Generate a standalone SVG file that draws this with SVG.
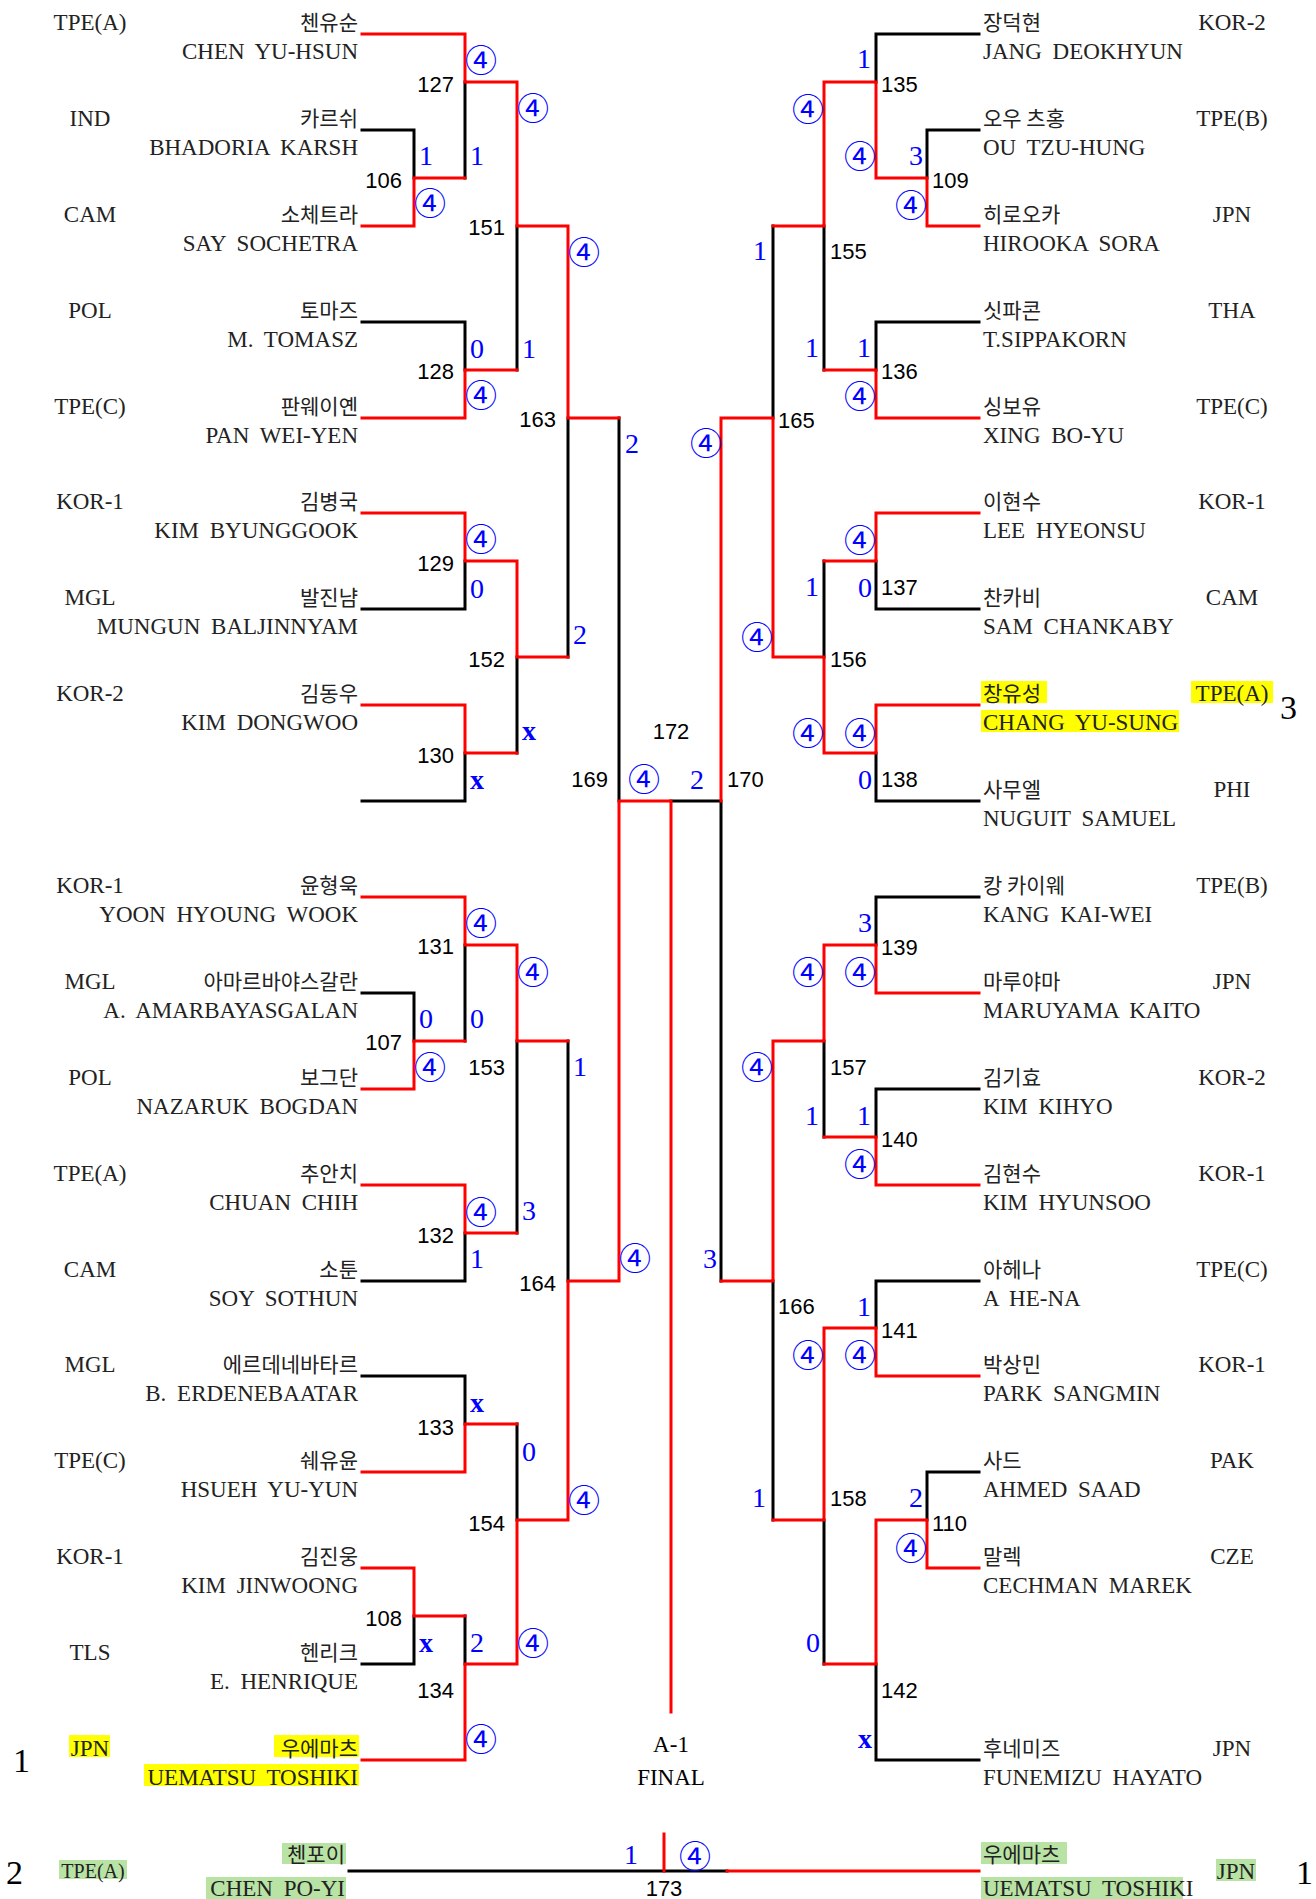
<svg xmlns="http://www.w3.org/2000/svg" width="1316" height="1899" viewBox="0 0 1316 1899">
<style>
.k{fill:none;stroke:#000;stroke-width:3;stroke-linecap:square}
.r{fill:none;stroke:#f00;stroke-width:3;stroke-linecap:square}
.cty{font-family:"Liberation Serif",serif;font-size:23px;fill:#222;text-anchor:middle}
.kr{font-family:"Noto Sans CJK KR",sans-serif;font-size:21px;fill:#222}
.en{font-family:"Liberation Serif",serif;font-size:23px;fill:#222;word-spacing:5px}
.e{text-anchor:end}
.mn{font-family:"Liberation Sans",sans-serif;font-size:22px;fill:#000}
.sc{font-family:"Liberation Serif",serif;font-size:28px;fill:#00f}
.c4{font-family:"Noto Sans CJK KR",sans-serif;font-size:32px;fill:#00f}
.x{font-family:"Liberation Serif",serif;font-weight:bold;font-size:28px;fill:#00f}
.big{font-family:"Liberation Serif",serif;font-size:34px;fill:#000}
.fin{font-family:"Liberation Serif",serif;font-size:23px;fill:#000;text-anchor:middle}
.yl{fill:#ffff00}
.gr{fill:#b9e3a5}
</style>
<rect width="1316" height="1899" fill="#fff"/>
<g id="connectors">
<path class="k" d="M362 130H414V178M465 82V178M362 322H465V370M517 226V370M362 609H465V561M362 801H465V753M517 657V753M568 418V657M619 418V801M465 945V1041M362 993H414V1041M362 1281H465V1233M517 1041V1233M568 1041V1281M362 1376H465V1424M517 1424V1520M362 1664H414V1616M465 1616V1664"/>
<path class="k" d="M979 34H876V82M979 130H927V178M773 226V418M979 322H876V370M824 226V370M979 609H876V561M824 561V657M979 801H876V753M721 801V1281M721 801H671M979 897H876V945M979 1089H876V1137M824 1041V1137M979 1281H876V1328M773 1281V1520M979 1472H927V1520M824 1520V1664M979 1760H876V1664"/>
<path class="k" d="M349 1871H727"/>
<path class="r" d="M362 34H465V82H517V226H568V418H619M362 226H414V178H465M362 418H465V370H517M362 513H465V561H517V657H568M362 705H465V753H517M362 897H465V945H517V1041H568M362 1089H414V1041H465M362 1185H465V1233H517M362 1472H465V1424H517M362 1568H414V1616H465M362 1760H465V1664H517V1520H568V1281H619V801H671V1712"/>
<path class="r" d="M979 226H927V178H876V82H824V226H773M979 418H876V370H824M979 513H876V561H824M979 705H876V753H824V657H773V418H721V801M979 993H876V945H824V1041H773V1281H721M979 1185H876V1137H824M979 1376H876V1328H824V1520H773M979 1568H927V1520H876V1664H824"/>
<path class="r" d="M727 1871H979M664 1834V1871"/>
</g>
<g id="highlights">
<rect class="yl" x="69" y="1735" width="41" height="22"/>
<rect class="yl" x="274" y="1735" width="85" height="22"/>
<rect class="yl" x="144" y="1764" width="215" height="22"/>
<rect class="yl" x="981" y="681" width="66" height="22"/>
<rect class="yl" x="981" y="710" width="198" height="22"/>
<rect class="yl" x="1191" y="681" width="82" height="22"/>
<rect class="gr" x="59" y="1860" width="68" height="19"/>
<rect class="gr" x="282" y="1843" width="64" height="21"/>
<rect class="gr" x="206" y="1877" width="140" height="22"/>
<rect class="gr" x="981" y="1842" width="86" height="22"/>
<rect class="gr" x="981" y="1877" width="202" height="22"/>
<rect class="gr" x="1216" y="1859" width="40" height="22"/>
</g>
<g id="players-left">
<g id="pL1"><text class="cty" x="90" y="30">TPE(A)</text><text class="kr e" x="358" y="30">첸유순</text><text class="en e" x="358" y="59">CHEN YU-HSUN</text></g>
<g id="pL2"><text class="cty" x="90" y="126">IND</text><text class="kr e" x="358" y="126">카르쉬</text><text class="en e" x="358" y="155">BHADORIA KARSH</text></g>
<g id="pL3"><text class="cty" x="90" y="222">CAM</text><text class="kr e" x="358" y="222">소체트라</text><text class="en e" x="358" y="251">SAY SOCHETRA</text></g>
<g id="pL4"><text class="cty" x="90" y="318">POL</text><text class="kr e" x="358" y="318">토마즈</text><text class="en e" x="358" y="347">M. TOMASZ</text></g>
<g id="pL5"><text class="cty" x="90" y="414">TPE(C)</text><text class="kr e" x="358" y="414">판웨이옌</text><text class="en e" x="358" y="443">PAN WEI-YEN</text></g>
<g id="pL6"><text class="cty" x="90" y="509">KOR-1</text><text class="kr e" x="358" y="509">김병국</text><text class="en e" x="358" y="538">KIM BYUNGGOOK</text></g>
<g id="pL7"><text class="cty" x="90" y="605">MGL</text><text class="kr e" x="358" y="605">발진냠</text><text class="en e" x="358" y="634">MUNGUN BALJINNYAM</text></g>
<g id="pL8"><text class="cty" x="90" y="701">KOR-2</text><text class="kr e" x="358" y="701">김동우</text><text class="en e" x="358" y="730">KIM DONGWOO</text></g>
<g id="pL10"><text class="cty" x="90" y="893">KOR-1</text><text class="kr e" x="358" y="893">윤형욱</text><text class="en e" x="358" y="922">YOON HYOUNG WOOK</text></g>
<g id="pL11"><text class="cty" x="90" y="989">MGL</text><text class="kr e" x="358" y="989">아마르바야스갈란</text><text class="en e" x="358" y="1018">A. AMARBAYASGALAN</text></g>
<g id="pL12"><text class="cty" x="90" y="1085">POL</text><text class="kr e" x="358" y="1085">보그단</text><text class="en e" x="358" y="1114">NAZARUK BOGDAN</text></g>
<g id="pL13"><text class="cty" x="90" y="1181">TPE(A)</text><text class="kr e" x="358" y="1181">추안치</text><text class="en e" x="358" y="1210">CHUAN CHIH</text></g>
<g id="pL14"><text class="cty" x="90" y="1277">CAM</text><text class="kr e" x="358" y="1277">소툰</text><text class="en e" x="358" y="1306">SOY SOTHUN</text></g>
<g id="pL15"><text class="cty" x="90" y="1372">MGL</text><text class="kr e" x="358" y="1372">에르데네바타르</text><text class="en e" x="358" y="1401">B. ERDENEBAATAR</text></g>
<g id="pL16"><text class="cty" x="90" y="1468">TPE(C)</text><text class="kr e" x="358" y="1468">쉐유윤</text><text class="en e" x="358" y="1497">HSUEH YU-YUN</text></g>
<g id="pL17"><text class="cty" x="90" y="1564">KOR-1</text><text class="kr e" x="358" y="1564">김진웅</text><text class="en e" x="358" y="1593">KIM JINWOONG</text></g>
<g id="pL18"><text class="cty" x="90" y="1660">TLS</text><text class="kr e" x="358" y="1660">헨리크</text><text class="en e" x="358" y="1689">E. HENRIQUE</text></g>
<g id="pL19"><text class="cty" x="90" y="1756">JPN</text><text class="kr e" x="358" y="1756">우에마츠</text><text class="en e" x="358" y="1785">UEMATSU TOSHIKI</text><text class="big" x="13" y="1772">1</text></g>
</g>
<g id="players-right">
<g id="pR1"><text class="kr" x="983" y="30">장덕현</text><text class="en" x="983" y="59">JANG DEOKHYUN</text><text class="cty" x="1232" y="30">KOR-2</text></g>
<g id="pR2"><text class="kr" x="983" y="126">오우 츠홍</text><text class="en" x="983" y="155">OU TZU-HUNG</text><text class="cty" x="1232" y="126">TPE(B)</text></g>
<g id="pR3"><text class="kr" x="983" y="222">히로오카</text><text class="en" x="983" y="251">HIROOKA SORA</text><text class="cty" x="1232" y="222">JPN</text></g>
<g id="pR4"><text class="kr" x="983" y="318">싯파콘</text><text class="en" x="983" y="347">T.SIPPAKORN</text><text class="cty" x="1232" y="318">THA</text></g>
<g id="pR5"><text class="kr" x="983" y="414">싱보유</text><text class="en" x="983" y="443">XING BO-YU</text><text class="cty" x="1232" y="414">TPE(C)</text></g>
<g id="pR6"><text class="kr" x="983" y="509">이현수</text><text class="en" x="983" y="538">LEE HYEONSU</text><text class="cty" x="1232" y="509">KOR-1</text></g>
<g id="pR7"><text class="kr" x="983" y="605">찬카비</text><text class="en" x="983" y="634">SAM CHANKABY</text><text class="cty" x="1232" y="605">CAM</text></g>
<g id="pR8"><text class="kr" x="983" y="701">창유성</text><text class="en" x="983" y="730">CHANG YU-SUNG</text><text class="cty" x="1232" y="701">TPE(A)</text><text class="big" x="1280" y="719">3</text></g>
<g id="pR9"><text class="kr" x="983" y="797">사무엘</text><text class="en" x="983" y="826">NUGUIT SAMUEL</text><text class="cty" x="1232" y="797">PHI</text></g>
<g id="pR10"><text class="kr" x="983" y="893">캉 카이웨</text><text class="en" x="983" y="922">KANG KAI-WEI</text><text class="cty" x="1232" y="893">TPE(B)</text></g>
<g id="pR11"><text class="kr" x="983" y="989">마루야마</text><text class="en" x="983" y="1018">MARUYAMA KAITO</text><text class="cty" x="1232" y="989">JPN</text></g>
<g id="pR12"><text class="kr" x="983" y="1085">김기효</text><text class="en" x="983" y="1114">KIM KIHYO</text><text class="cty" x="1232" y="1085">KOR-2</text></g>
<g id="pR13"><text class="kr" x="983" y="1181">김현수</text><text class="en" x="983" y="1210">KIM HYUNSOO</text><text class="cty" x="1232" y="1181">KOR-1</text></g>
<g id="pR14"><text class="kr" x="983" y="1277">아헤나</text><text class="en" x="983" y="1306">A HE-NA</text><text class="cty" x="1232" y="1277">TPE(C)</text></g>
<g id="pR15"><text class="kr" x="983" y="1372">박상민</text><text class="en" x="983" y="1401">PARK SANGMIN</text><text class="cty" x="1232" y="1372">KOR-1</text></g>
<g id="pR16"><text class="kr" x="983" y="1468">사드</text><text class="en" x="983" y="1497">AHMED SAAD</text><text class="cty" x="1232" y="1468">PAK</text></g>
<g id="pR17"><text class="kr" x="983" y="1564">말렉</text><text class="en" x="983" y="1593">CECHMAN MAREK</text><text class="cty" x="1232" y="1564">CZE</text></g>
<g id="pR19"><text class="kr" x="983" y="1756">후네미즈</text><text class="en" x="983" y="1785">FUNEMIZU HAYATO</text><text class="cty" x="1232" y="1756">JPN</text></g>
</g>
<g id="matches-left">
<g id="m106"><text class="mn e" x="402" y="188">106</text><text class="sc" x="419" y="165">1</text><text class="c4" x="414" y="215">④</text></g>
<g id="m127"><text class="mn e" x="454" y="92">127</text><text class="c4" x="465" y="72">④</text><text class="sc" x="470" y="165">1</text></g>
<g id="m128"><text class="mn e" x="454" y="379">128</text><text class="sc" x="470" y="358">0</text><text class="c4" x="465" y="407">④</text></g>
<g id="m129"><text class="mn e" x="454" y="571">129</text><text class="c4" x="465" y="551">④</text><text class="sc" x="470" y="598">0</text></g>
<g id="m130"><text class="mn e" x="454" y="763">130</text><text class="x" x="470" y="789">x</text></g>
<g id="m131"><text class="mn e" x="454" y="954">131</text><text class="c4" x="465" y="935">④</text><text class="sc" x="470" y="1028">0</text></g>
<g id="m107"><text class="mn e" x="402" y="1050">107</text><text class="sc" x="419" y="1028">0</text><text class="c4" x="414" y="1079">④</text></g>
<g id="m132"><text class="mn e" x="454" y="1243">132</text><text class="c4" x="465" y="1224">④</text><text class="sc" x="470" y="1268">1</text></g>
<g id="m133"><text class="mn e" x="454" y="1435">133</text><text class="x" x="470" y="1412">x</text></g>
<g id="m108"><text class="mn e" x="402" y="1626">108</text><text class="x" x="419" y="1652">x</text></g>
<g id="m134"><text class="mn e" x="454" y="1698">134</text><text class="sc" x="470" y="1652">2</text><text class="c4" x="465" y="1751">④</text></g>
<g id="m151"><text class="mn e" x="505" y="235">151</text><text class="c4" x="517" y="120">④</text><text class="sc" x="522" y="358">1</text></g>
<g id="m152"><text class="mn e" x="505" y="667">152</text><text class="x" x="522" y="740">x</text></g>
<g id="m153"><text class="mn e" x="505" y="1075">153</text><text class="c4" x="517" y="984">④</text><text class="sc" x="522" y="1220">3</text></g>
<g id="m154"><text class="mn e" x="505" y="1531">154</text><text class="sc" x="522" y="1461">0</text><text class="c4" x="517" y="1655">④</text></g>
<g id="m163"><text class="mn e" x="556" y="427">163</text><text class="c4" x="568" y="264">④</text><text class="sc" x="573" y="644">2</text></g>
<g id="m164"><text class="mn e" x="556" y="1291">164</text><text class="sc" x="573" y="1076">1</text><text class="c4" x="568" y="1512">④</text></g>
<g id="m169"><text class="mn e" x="608" y="787">169</text><text class="sc" x="625" y="453">2</text><text class="c4" x="619" y="1270">④</text></g>
</g>
<g id="final">
<text class="mn" x="671" y="739" text-anchor="middle">172</text>
<text class="c4" x="628" y="791">④</text>
<text class="sc" x="690" y="789">2</text>
<text class="fin" x="671" y="1752">A-1</text>
<text class="fin" x="671" y="1785">FINAL</text>
</g>
<g id="matches-right">
<g id="m170"><text class="mn" x="727" y="787">170</text><text class="c4 e" x="722" y="455">④</text><text class="sc e" x="717" y="1268">3</text></g>
<g id="m109"><text class="mn" x="932" y="188">109</text><text class="sc e" x="923" y="165">3</text><text class="c4 e" x="927" y="217">④</text></g>
<g id="m110"><text class="mn" x="932" y="1531">110</text><text class="sc e" x="923" y="1507">2</text><text class="c4 e" x="927" y="1560">④</text></g>
<g id="m135"><text class="mn" x="881" y="92">135</text><text class="sc e" x="871" y="68">1</text><text class="c4 e" x="876" y="168">④</text></g>
<g id="m136"><text class="mn" x="881" y="379">136</text><text class="sc e" x="871" y="357">1</text><text class="c4 e" x="876" y="408">④</text></g>
<g id="m137"><text class="mn" x="881" y="595">137</text><text class="c4 e" x="876" y="552">④</text><text class="sc e" x="872" y="597">0</text></g>
<g id="m138"><text class="mn" x="881" y="787">138</text><text class="c4 e" x="876" y="745">④</text><text class="sc e" x="872" y="789">0</text></g>
<g id="m139"><text class="mn" x="881" y="955">139</text><text class="sc e" x="872" y="932">3</text><text class="c4 e" x="876" y="984">④</text></g>
<g id="m140"><text class="mn" x="881" y="1147">140</text><text class="sc e" x="871" y="1125">1</text><text class="c4 e" x="876" y="1176">④</text></g>
<g id="m141"><text class="mn" x="881" y="1338">141</text><text class="sc e" x="871" y="1316">1</text><text class="c4 e" x="876" y="1367">④</text></g>
<g id="m142"><text class="mn" x="881" y="1698">142</text><text class="x e" x="872" y="1748">x</text></g>
<g id="m155"><text class="mn" x="830" y="259">155</text><text class="c4 e" x="824" y="121">④</text><text class="sc e" x="819" y="357">1</text></g>
<g id="m156"><text class="mn" x="830" y="667">156</text><text class="sc e" x="819" y="596">1</text><text class="c4 e" x="824" y="745">④</text></g>
<g id="m157"><text class="mn" x="830" y="1075">157</text><text class="c4 e" x="824" y="984">④</text><text class="sc e" x="819" y="1125">1</text></g>
<g id="m158"><text class="mn" x="830" y="1506">158</text><text class="c4 e" x="824" y="1367">④</text><text class="sc e" x="820" y="1652">0</text></g>
<g id="m165"><text class="mn" x="778" y="428">165</text><text class="sc e" x="767" y="260">1</text><text class="c4 e" x="773" y="649">④</text></g>
<g id="m166"><text class="mn" x="778" y="1314">166</text><text class="c4 e" x="773" y="1079">④</text><text class="sc e" x="766" y="1507">1</text></g>
</g>
<g id="m173">
<text class="big" x="6" y="1884">2</text>
<text class="cty" x="93" y="1878" style="font-size:20px">TPE(A)</text>
<text class="kr e" x="345" y="1862">첸포이</text>
<text class="en e" x="345" y="1896">CHEN PO-YI</text>
<text class="sc e" x="638" y="1864">1</text>
<text class="c4" x="679" y="1868">④</text>
<text class="mn" x="664" y="1896" text-anchor="middle">173</text>
<text class="kr" x="983" y="1862">우에마츠</text>
<text class="en" x="983" y="1896">UEMATSU TOSHIKI</text>
<text class="cty" x="1236" y="1879">JPN</text>
<text class="big" x="1296" y="1884">1</text>
</g>
</svg>
